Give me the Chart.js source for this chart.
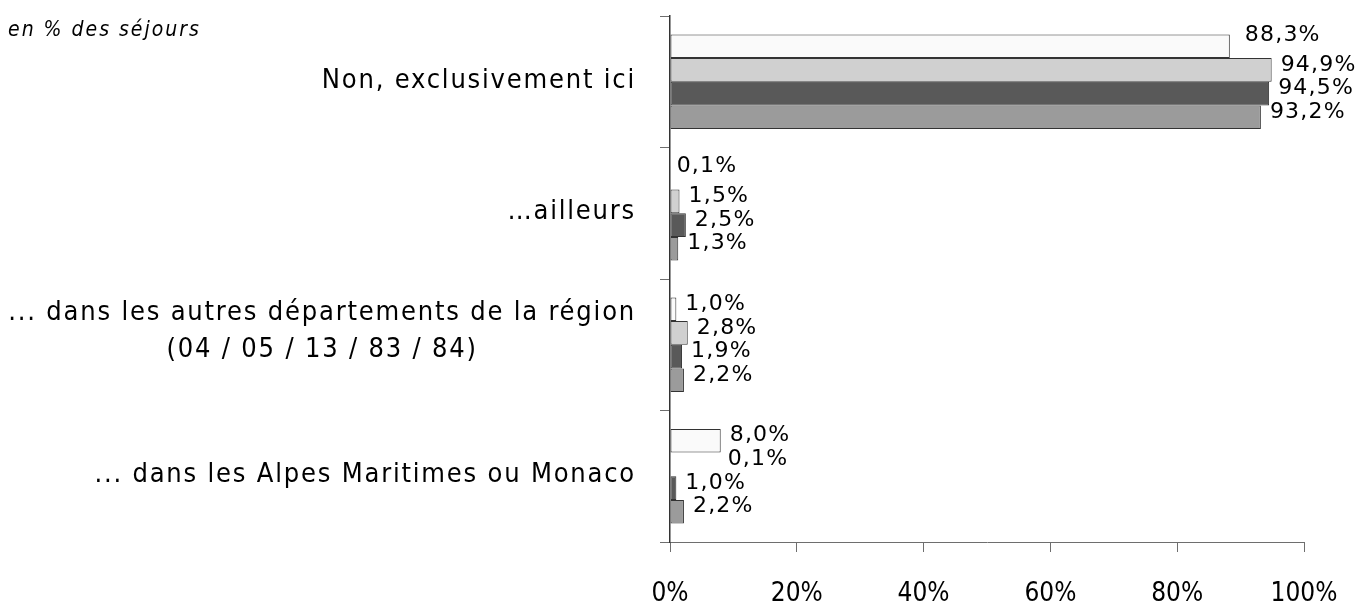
<!DOCTYPE html>
<html lang="fr">
<head>
<meta charset="utf-8">
<title>Séjours</title>
<script src="https://cdn.jsdelivr.net/npm/chart.js@4.4.0/dist/chart.umd.min.js"></script>
<style>
  html, body { margin: 0; padding: 0; background: #fff; }
  canvas { display: block; }
</style>
</head>
<body>
<canvas id="chart" width="1359" height="605"></canvas>
<script>
// categories (one entry per line of the label)
const categories = [
  ['Non, exclusivement ici'],
  ['…ailleurs'],
  ['... dans les autres départements de la région', '(04 / 05 / 13 / 83 / 84)'],
  ['... dans les Alpes Maritimes ou Monaco'],
];
// % des séjours, une série par barre
const serie1 = [88.3, 0.1, 1.0, 8.0];
const serie2 = [94.9, 1.5, 2.8, 0.1];
const serie3 = [94.5, 2.5, 1.9, 1.0];
const serie4 = [93.2, 1.3, 2.2, 2.2];
const xTicks = [0, 20, 40, 60, 80, 100];
const unitLabel = 'en % des séjours';

const fmt = (v) => v.toFixed(1).replace('.', ',') + '%';

// value labels at the end of each bar
const valueLabels = {
  id: 'valueLabels',
  afterDatasetsDraw(chart, args, opts) {
    const ctx = chart.ctx;
    ctx.save();
    ctx.font = '22px "DejaVu Sans"';
    ctx.letterSpacing = '1.2px';
    ctx.fillStyle = '#000';
    ctx.textAlign = 'left';
    ctx.textBaseline = 'middle';
    chart.data.datasets.forEach((ds, di) => {
      const meta = chart.getDatasetMeta(di);
      meta.data.forEach((bar, i) => {
        const nudge = opts.nudges[di + ':' + i] || [0, 0];
        ctx.fillText(fmt(ds.data[i]), bar.x + opts.gap + nudge[0], bar.y + opts.dy + nudge[1]);
      });
    });
    ctx.restore();
  },
};

// category names on the left + the unit note
const sideLabels = {
  id: 'sideLabels',
  afterDraw(chart, args, opts) {
    const ctx = chart.ctx;
    const yScale = chart.scales.y;
    ctx.save();
    ctx.fillStyle = '#000';
    ctx.textBaseline = 'middle';

    ctx.font = 'italic 21px "DejaVu Sans Condensed", "DejaVu Sans"';
    ctx.letterSpacing = '2px';
    ctx.textAlign = 'left';
    ctx.fillText(unitLabel, 8, 31);

    ctx.font = '27px "DejaVu Sans Condensed", "DejaVu Sans"';
    ctx.letterSpacing = '1.8px';
    chart.data.labels.forEach((lines, i) => {
      const cy = yScale.getPixelForValue(i);
      if (lines.length === 1) {
        ctx.textAlign = 'right';
        ctx.fillText(lines[0], opts.right, cy - 1);
        return;
      }
      // multi-line: block right aligned, lines centred inside it
      const w = Math.max(...lines.map((l) => ctx.measureText(l).width));
      ctx.textAlign = 'center';
      lines.forEach((line, k) => {
        ctx.fillText(line, opts.right - w / 2, cy - 32 + k * opts.lineHeight);
      });
    });
    ctx.restore();
  },
};

const bar = (label, data, color) => ({
  label,
  data,
  backgroundColor: color,
  borderColor: '#333',
  borderWidth: 1,
  borderSkipped: false,
  categoryPercentage: 0.72,
  barPercentage: 1.0,
});

new Chart(document.getElementById('chart'), {
  type: 'bar',
  data: {
    labels: categories,
    datasets: [
      bar('Série 1', serie1, '#fafafa'),
      bar('Série 2', serie2, '#d0d0d0'),
      bar('Série 3', serie3, '#595959'),
      bar('Série 4', serie4, '#9b9b9b'),
    ],
  },
  options: {
    indexAxis: 'y',
    responsive: false,
    animation: false,
    layout: { padding: { top: 16, right: 55, left: 0, bottom: 0 } },
    scales: {
      x: {
        min: 0,
        max: 100,
        afterBuildTicks: (scale) => { scale.ticks = xTicks.map((v) => ({ value: v })); },
        afterFit: (scale) => {
          scale.height = 63;
          // keep the plot width fixed, the outer padding is enough for "100%"
          scale.paddingLeft = 0;
          scale.paddingRight = 0;
        },
        ticks: {
          callback: (v) => v + '%',
          color: '#000',
          padding: 27,
          maxRotation: 0,
          font: { family: '"DejaVu Sans Condensed", "DejaVu Sans"', size: 26 },
        },
        grid: { drawOnChartArea: false, tickLength: 10, color: '#6e6e6e' },
        border: { color: '#6e6e6e', width: 1 },
      },
      y: {
        afterFit: (scale) => { scale.width = 670; },
        ticks: { display: false },
        grid: { offset: true, drawOnChartArea: false, tickLength: 10, color: '#6e6e6e' },
        border: { color: '#333', width: 1.5 },
      },
    },
    plugins: {
      legend: { display: false },
      tooltip: { enabled: false },
      valueLabels: {
        gap: 9,
        dy: -5,
        nudges: { '0:0': [6, -6], '0:1': [-3, -6], '1:3': [48, 0] },
      },
      sideLabels: { right: 636, lineHeight: 37 },
    },
  },
  plugins: [valueLabels, sideLabels],
});
</script>
</body>
</html>
